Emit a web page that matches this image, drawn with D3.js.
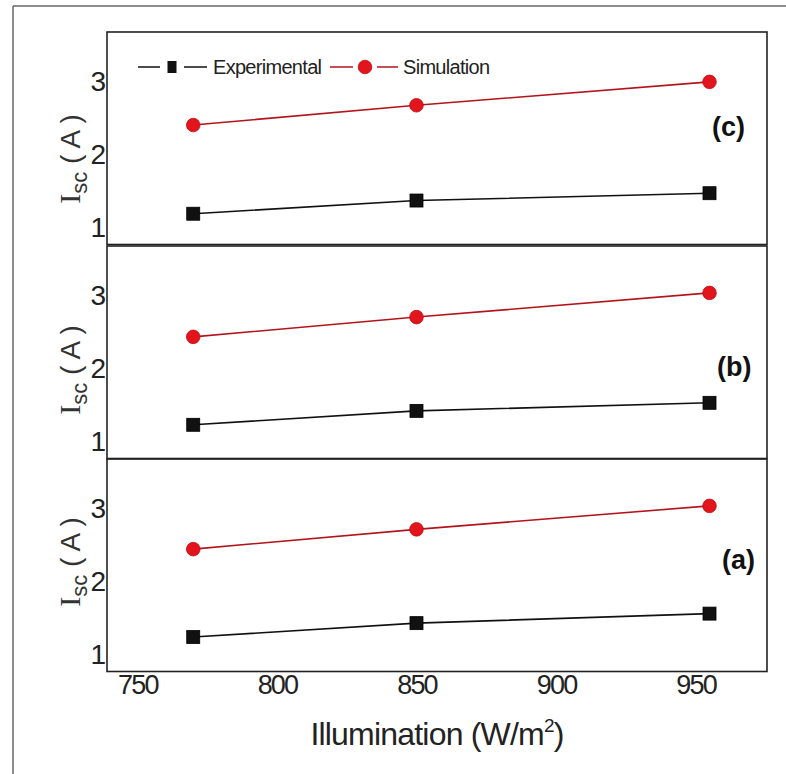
<!DOCTYPE html>
<html>
<head>
<meta charset="utf-8">
<script src="https://cdn.jsdelivr.net/npm/d3@7"></script>
<style>
  html, body { margin: 0; padding: 0; background: #fff; }
  svg { display: block; }
</style>
</head>
<body>
<svg id="chart" width="786" height="774"></svg>
<script>
// ---------- data ----------
const illumination = [770, 850, 955];
const panelLabels = ["(c)", "(b)", "(a)"];
const experimentalC = [1.19, 1.37, 1.47];
const simulationC   = [2.40, 2.67, 2.99];
const experimentalB = [1.23, 1.42, 1.53];
const simulationB   = [2.43, 2.70, 3.03];
const experimentalA = [1.24, 1.43, 1.56];
const simulationA   = [2.44, 2.71, 3.03];
const xTicks = [750, 800, 850, 900, 950];
const yTicks = [1, 2, 3];
const seriesNames = ["Experimental", "Simulation"];

// ---------- layout ----------
const svg = d3.select("#chart");
const left = 107, right = 767;
const panelTops = [32, 246, 459];
const panelH = 212.5;
const titleCenters = [159, 370, 562];
const labelPos = [[712, 136], [717, 376], [722, 569]];

const x = d3.scaleLinear().domain([739.1, 975.6]).range([left, right]);

const expColor = "#111";
const simLine = "#b3141c";
const simFill = "#e2141c";

// outer frame (top and left edges visible)
svg.append("line").attr("x1", 13).attr("y1", 6).attr("x2", 786).attr("y2", 6)
  .attr("stroke", "#666").attr("stroke-width", 1.5);
svg.append("line").attr("x1", 13).attr("y1", 6).attr("x2", 13).attr("y2", 774)
  .attr("stroke", "#666").attr("stroke-width", 1.5);

const panels = [
  { exp: experimentalC, sim: simulationC },
  { exp: experimentalB, sim: simulationB },
  { exp: experimentalA, sim: simulationA }
];

panels.forEach((p, i) => {
  const top = panelTops[i];
  const bottom = top + panelH;
  const y = d3.scaleLinear().domain([0.77, 3.67]).range([bottom, top]);
  const g = svg.append("g");

  // y axis labels (no tick marks)
  const yAxis = d3.axisLeft(y).tickValues(yTicks).tickSize(0).tickPadding(1)
    .tickFormat(d3.format("d"));
  const ya = g.append("g").attr("transform", `translate(${left},0)`).call(yAxis);
  ya.select(".domain").remove();
  ya.selectAll("text")
    .attr("font-family", "'Liberation Sans', Arial, sans-serif")
    .attr("font-size", 28)
    .attr("fill", "#222");

  // y title (rotated)
  const t = g.append("text")
    .attr("transform", `translate(80,${titleCenters[i]}) rotate(-90)`)
    .attr("text-anchor", "middle")
    .attr("fill", "#333");
  t.append("tspan").attr("font-family", "'Liberation Serif', serif").attr("font-size", 30).text("I");
  t.append("tspan").attr("font-family", "'Liberation Sans', sans-serif").attr("font-size", 22)
    .attr("dy", 7).text("sc");
  t.append("tspan").attr("font-family", "'Liberation Sans', sans-serif").attr("font-size", 28)
    .attr("dy", -7).text(" ( A )");

  // lines & markers
  const line = d3.line().x((d, k) => x(illumination[k])).y(d => y(d));
  g.append("path").datum(p.exp).attr("d", line)
    .attr("fill", "none").attr("stroke", expColor).attr("stroke-width", 1.6);
  g.append("path").datum(p.sim).attr("d", line)
    .attr("fill", "none").attr("stroke", simLine).attr("stroke-width", 1.6);

  const s = 13;
  g.selectAll(".sq").data(p.exp).enter().append("rect")
    .attr("x", (d, k) => x(illumination[k]) - s / 2)
    .attr("y", d => y(d) - s / 2)
    .attr("width", s).attr("height", s)
    .attr("fill", "#111").attr("stroke", "#000").attr("stroke-width", 0.8);
  g.selectAll(".ci").data(p.sim).enter().append("circle")
    .attr("cx", (d, k) => x(illumination[k]))
    .attr("cy", d => y(d))
    .attr("r", 6.8)
    .attr("fill", simFill).attr("stroke", "#c00d14").attr("stroke-width", 0.8);

  // panel label
  g.append("text").attr("x", labelPos[i][0]).attr("y", labelPos[i][1])
    .attr("font-family", "'Liberation Sans', Arial, sans-serif")
    .attr("font-weight", "bold").attr("font-size", 27).attr("fill", "#111")
    .text(panelLabels[i]);

  // frame
  g.append("rect").attr("x", left).attr("y", top)
    .attr("width", right - left).attr("height", panelH)
    .attr("fill", "none").attr("stroke", "#222").attr("stroke-width", 1.6);

  if (i === 2) {
    const xAxis = d3.axisBottom(x).tickValues(xTicks).tickSize(0).tickPadding(3)
      .tickFormat(d3.format("d"));
    const xa = g.append("g").attr("transform", `translate(0,${bottom})`).call(xAxis);
    xa.select(".domain").remove();
    xa.selectAll("text")
      .attr("font-family", "'Liberation Sans', Arial, sans-serif")
      .attr("font-size", 27)
      .attr("letter-spacing", -1.8)
      .attr("fill", "#222");
  }
});

// legend in top panel
const ly = 67;
const leg = svg.append("g");
leg.append("line").attr("x1", 138).attr("x2", 207).attr("y1", ly).attr("y2", ly)
  .attr("stroke", expColor).attr("stroke-width", 1.6);
leg.append("rect").attr("x", 160).attr("y", ly - 3).attr("width", 24).attr("height", 6)
  .attr("fill", "#fff");
leg.append("rect").attr("x", 172 - 4.5).attr("y", ly - 6).attr("width", 9).attr("height", 12)
  .attr("fill", "#111");
leg.append("text").attr("x", 213).attr("y", ly + 7)
  .attr("font-family", "'Liberation Sans', Arial, sans-serif").attr("font-size", 20)
  .attr("letter-spacing", -0.7).attr("fill", "#222").text(seriesNames[0]);
leg.append("line").attr("x1", 330).attr("x2", 398).attr("y1", ly).attr("y2", ly)
  .attr("stroke", simLine).attr("stroke-width", 1.6);
leg.append("rect").attr("x", 353).attr("y", ly - 3).attr("width", 24).attr("height", 6)
  .attr("fill", "#fff");
leg.append("circle").attr("cx", 365).attr("cy", ly).attr("r", 6.8)
  .attr("fill", simFill).attr("stroke", "#c00d14").attr("stroke-width", 0.8);
leg.append("text").attr("x", 403).attr("y", ly + 7)
  .attr("font-family", "'Liberation Sans', Arial, sans-serif").attr("font-size", 20)
  .attr("letter-spacing", -0.7).attr("fill", "#222").text(seriesNames[1]);

// x title
const xt = svg.append("text").attr("x", 437).attr("y", 745)
  .attr("text-anchor", "middle")
  .attr("font-family", "'Liberation Sans', Arial, sans-serif")
  .attr("font-size", 32).attr("letter-spacing", -0.8).attr("fill", "#222");
xt.append("tspan").text("Illumination (W/m");
xt.append("tspan").attr("font-size", 19).attr("dy", -13).text("2");
xt.append("tspan").attr("dy", 13).text(")");
</script>
</body>
</html>
